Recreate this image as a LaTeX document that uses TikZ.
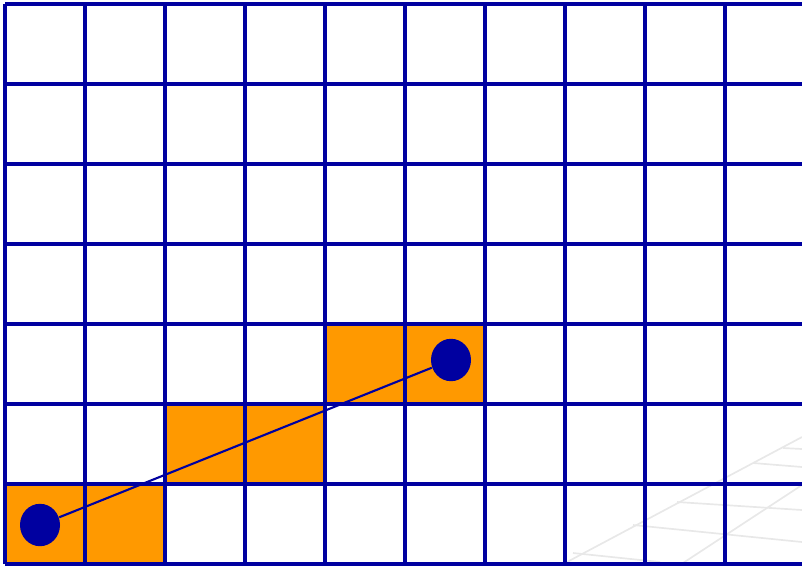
\documentclass[tikz,border=0pt]{standalone}
\usepackage{xcolor}
\usepackage{tikz}
\usetikzlibrary{positioning,shapes.geometric}

\definecolor{gridblue}{RGB}{0,0,160}
\definecolor{cellorange}{RGB}{255,153,0}

\begin{document}
\begin{tikzpicture}[
    gridline/.style={draw=gridblue, line width=1.1pt},
    cell/.style={fill=cellorange},
    dot/.style={ellipse, fill=gridblue, inner sep=0pt,
                minimum width=0.5cm, minimum height=0.53cm},
    joinline/.style={draw=gridblue, line width=0.75pt},
    faint/.style={draw=gray!18, line width=0.6pt}
]

\useasboundingbox (-0.0625,-0.0125) rectangle (9.9625,7.05);
\clip (-0.0625,-0.0125) rectangle (9.9625,7.05);

%% SHADED CELLS
\foreach \cx/\cy in {0/0, 1/0, 2/1, 3/1, 4/2, 5/2}
    \fill[cell] (\cx,\cy) rectangle ++(1,1);

%% FAINT BACKGROUND LINES
\draw[faint] (7.025,0.025) -- (9.9625,1.5875);
\draw[faint] (8.475,0.0125) -- (9.9625,0.9875);
\draw[faint] (7.1,0.1375) -- (8.1875,0.025);
\draw[faint] (7.85,0.4875) -- (9.9625,0.275);
\draw[faint] (8.4,0.775) -- (9.9625,0.675);
\draw[faint] (9.35,1.2625) -- (9.9625,1.2125);
\draw[faint] (9.725,1.45) -- (9.9625,1.4375);

%% GRID
\foreach \gx in {0,...,10}
    \draw[gridline] (\gx,0) -- (\gx,7);
\foreach \gy in {0,...,7}
    \draw[gridline] (0,\gy) -- (10,\gy);

%% END POINTS
\node[dot] (start) at (0.4375,0.4875) {};
\node[dot] (finish) at (5.575,2.55) {};

%% CONNECTING SEGMENT
\draw[joinline] (start) -- (finish);

\end{tikzpicture}
\end{document}
